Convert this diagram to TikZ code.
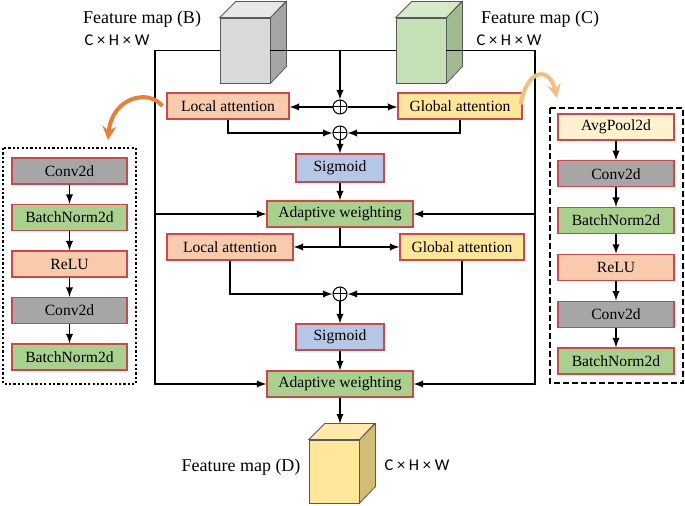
\documentclass[tikz,border=0pt]{standalone}
\usepackage{fontspec}
\setmainfont{Liberation Serif}
\newfontfamily\dimfont{Carlito}
\usepackage{xcolor}
\usepackage{tikz}
\usetikzlibrary{arrows}
\usetikzlibrary{positioning}
\definecolor{LocalC}{HTML}{F8CBAD}
\definecolor{GlobalC}{HTML}{FFE699}
\definecolor{SigC}{HTML}{B4C7E7}
\definecolor{WeightC}{HTML}{A9D18E}
\definecolor{ConvC}{HTML}{A6A6A6}
\definecolor{PoolC}{HTML}{FFF2CC}
\definecolor{EdgeC}{HTML}{D0474A}
\definecolor{CubeEdge}{HTML}{595959}
\definecolor{OrangeC}{HTML}{ED7D31}
\definecolor{GoldC}{HTML}{F5BE7E}
\tikzset{
  Layer/.style={
    rectangle, draw=EdgeC, line width=0.6pt,
    minimum height=13pt, inner sep=1pt,
    font=\fontsize{7.8}{8.5}\selectfont,
  },
  Plus/.style={
    circle, draw, line width=0.5pt, minimum size=7pt, inner sep=0pt,
    path picture={\draw[line width=0.5pt]
      (path picture bounding box.north) -- (path picture bounding box.south)
      (path picture bounding box.west) -- (path picture bounding box.east);},
  },
  CubeFace/.style={
    rectangle, draw=CubeEdge, line width=0.4pt,
    minimum width=25pt, minimum height=32.5pt, inner sep=0pt,
  },
  MapLabel/.style={font=\fontsize{9}{10}\selectfont},
  DimLabel/.style={font=\dimfont\fontsize{8.2}{9}\selectfont},
}

\begin{document}
\begin{tikzpicture}[x=0.5pt,y=-0.5pt,>=latex,line width=0.65pt]
\useasboundingbox (0,0) rectangle (685,506);
% feature maps
\node[CubeFace, fill=black!15] (FB) at (245,50.5) {};
\filldraw[draw=CubeEdge, line width=0.4pt, fill=black!35] (FB.north east) -- ++(16,-16) -- ++(0,65) -- (FB.south east) -- cycle;
\filldraw[draw=CubeEdge, line width=0.4pt, fill=black!9] (FB.north west) -- ++(16,-16) -- ++(50,0) -- (FB.north east) -- cycle;
\node[CubeFace, fill={rgb,255:red,197;green,224;blue,180}] (FC) at (421,50.5) {};
\filldraw[draw=CubeEdge, line width=0.4pt, fill={rgb,255:red,160;green,188;blue,142}] (FC.north east) -- ++(16,-16) -- ++(0,65) -- (FC.south east) -- cycle;
\filldraw[draw=CubeEdge, line width=0.4pt, fill={rgb,255:red,214;green,233;blue,201}] (FC.north west) -- ++(16,-16) -- ++(50,0) -- (FC.north east) -- cycle;
\node[CubeFace, minimum height=31.5pt, fill=GlobalC] (FD) at (334,471.5) {};
\filldraw[draw=CubeEdge, line width=0.4pt, fill={rgb,255:red,212;green,188;blue,116}] (FD.north east) -- ++(16,-16) -- ++(0,63) -- (FD.south east) -- cycle;
\filldraw[draw=CubeEdge, line width=0.4pt, fill={rgb,255:red,255;green,234;blue,170}] (FD.north west) -- ++(16,-16) -- ++(50,0) -- (FD.north east) -- cycle;
\node[MapLabel] (LabB) at (142,19) {Feature map (B)};
\node[DimLabel] (DimB) at (117,40) {C × H × W};
\node[MapLabel] (LabC) at (540,19) {Feature map (C)};
\node[DimLabel] (DimC) at (509,40) {C × H × W};
\node[MapLabel] (LabD) at (241,467) {Feature map (D)};
\node[DimLabel] (DimD) at (417,465) {C × H × W};
% main branch
\node[Layer, fill=LocalC, minimum width=61pt] (LA1) at (228,106) {Local attention};
\node[Layer, fill=GlobalC, minimum width=62pt] (GA1) at (460,106) {Global attention};
\node[Plus] (P1) at (340,107) {};
\node[Plus] (P2) at (340,133) {};
\node[Layer, fill=SigC, minimum width=44pt, minimum height=14pt] (S1) at (340,168) {Sigmoid};
\node[Layer, fill=WeightC, minimum width=73pt] (W1) at (340,214) {Adaptive weighting};
\node[Layer, fill=LocalC, minimum width=63pt] (LA2) at (230,247) {Local attention};
\node[Layer, fill=GlobalC, minimum width=62pt] (GA2) at (462,247) {Global attention};
\node[Plus] (P3) at (340,294) {};
\node[Layer, fill=SigC, minimum width=44pt] (S2) at (340,337) {Sigmoid};
\node[Layer, fill=WeightC, minimum width=73pt] (W2) at (340,384) {Adaptive weighting};
\coordinate (CornerL) at (155,384);
\coordinate (CornerR) at (535,384);
\coordinate (Split) at (W1.south |- LA2.east);
\coordinate (FDtop) at ([yshift=8pt]FD.north);
\draw (FB.east) -- (FC.west);
\draw[->] (FB.west) -| (CornerL) -- (W2.west);
\draw[->] (FC.east) -| (CornerR) -- (W2.east);
\draw[->] (CornerL |- W1.west) -- (W1.west);
\draw[->] (CornerR |- W1.east) -- (W1.east);
\draw[->] (FB.east -| P1) -- (P1);
\draw[->] (P1) -- (P1 -| LA1.east);
\draw[->] (P1) -- (P1 -| GA1.west);
\draw[->] (LA1.south) |- (P2);
\draw[->] (GA1.south) |- (P2);
\draw[->] (P2) -- (S1);
\draw[->] (S1) -- (W1);
\draw (W1.south) -- (Split);
\draw[->] (Split) -- (LA2.east);
\draw[->] (Split) -- (GA2.west);
\draw[->] (LA2.south) |- (P3);
\draw[->] (GA2.south) |- (P3);
\draw[->] (P3) -- (S2);
\draw[->] (S2) -- (W2);
\draw[->] (W2) -- (W2.south |- FDtop);
% local attention block
\node[Layer, fill=ConvC, minimum width=57.5pt] (LConvA) at (69.5,171) {Conv2d};
\node[Layer, fill=WeightC, minimum width=57.5pt, below=9.65pt of LConvA] (LNormA) {BatchNorm2d};
\node[Layer, fill=LocalC, minimum width=57.5pt, below=9.65pt of LNormA] (LRelu) {ReLU};
\node[Layer, fill=ConvC, minimum width=57.5pt, below=9.65pt of LRelu] (LConvB) {Conv2d};
\node[Layer, fill=WeightC, minimum width=57.5pt, below=9.65pt of LConvB] (LNormB) {BatchNorm2d};
\draw[->] (LConvA) -- (LNormA);
\draw[->] (LNormA) -- (LRelu);
\draw[->] (LRelu) -- (LConvB);
\draw[->] (LConvB) -- (LNormB);
\draw[line width=1.1pt, dash pattern=on 1.1pt off 1.1pt] (3,148) rectangle (136,384);
% global attention block
\node[Layer, fill=PoolC, minimum width=58pt] (GPool) at (616,127) {AvgPool2d};
\node[Layer, fill=ConvC, minimum width=58pt, below=9.8pt of GPool] (GConvA) {Conv2d};
\node[Layer, fill=WeightC, minimum width=58pt, below=9.8pt of GConvA] (GNormA) {BatchNorm2d};
\node[Layer, fill=LocalC, minimum width=58pt, below=9.8pt of GNormA] (GRelu) {ReLU};
\node[Layer, fill=ConvC, minimum width=58pt, below=9.8pt of GRelu] (GConvB) {Conv2d};
\node[Layer, fill=WeightC, minimum width=58pt, below=9.8pt of GConvB] (GNormB) {BatchNorm2d};
\draw[->] (GPool) -- (GConvA);
\draw[->] (GConvA) -- (GNormA);
\draw[->] (GNormA) -- (GRelu);
\draw[->] (GRelu) -- (GConvB);
\draw[->] (GConvB) -- (GNormB);
\draw[line width=1.1pt, dash pattern=on 3pt off 1.5pt] (550,108) rectangle (683,383);
% links to the blocks
\coordinate (LinkL) at (108,140);
\coordinate (LinkR) at (557,98);
\draw[->, >=stealth, line width=2pt, draw=OrangeC] ([xshift=-2pt]LA1.west) .. controls (148,88) and (112,98) .. (LinkL);
\draw[->, >=stealth, line width=2pt, draw=GoldC] ([xshift=-1pt,yshift=-6pt]GA1.north east) .. controls (528,66) and (550,68) .. (LinkR);
\end{tikzpicture}
\end{document}
